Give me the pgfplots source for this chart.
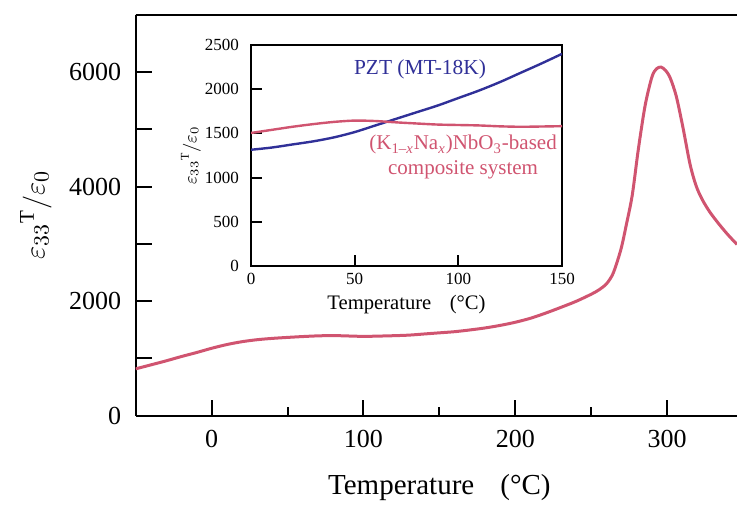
\documentclass[border=0pt]{standalone}
\usepackage{fontspec}
\setmainfont{Liberation Serif}
\usepackage{pgfplots}
\pgfplotsset{compat=1.18}
\definecolor{pinkc}{RGB}{208,84,112}
\definecolor{bluec}{RGB}{48,48,152}
\begin{document}
\begin{tikzpicture}
\begin{axis}[
  name=main,
  scale only axis, width=300.65pt, height=200.25pt,
  xmin=-50, xmax=346, ymin=0, ymax=7000,
  axis x line=box, axis y line=left,
  axis line style={line width=1pt,-},
  xtick={0,100,200,300}, minor xtick={50,150,250},
  ytick={0,1000,2000,3000,4000,5000,6000,7000},
  yticklabels={0,,2000,,4000,,6000,},
  xtick pos=bottom, ytick pos=left,
  tick align=inside,
  major tick length=8pt, minor tick length=4.5pt,
  every tick/.style={black, line width=1pt},
  /pgf/number format/assume math mode=true,
  /pgf/number format/1000 sep={},
  tick label style={font=\fontsize{13}{15}\selectfont},
  xticklabel style={yshift=-3.8pt},
  yticklabel style={xshift=-3.8pt},
  label style={font=\fontsize{14.5}{17}\selectfont},
  xlabel={Temperature\hspace{0.65em} (°C)},
  ylabel={$\varepsilon_{33}{}^{\mathrm{T}}/\varepsilon_0$},
  xlabel style={at={(axis description cs:0.505,-0.181)}, anchor=center},
  ylabel style={font=\fontsize{15}{17}\selectfont, at={(axis description cs:-0.166,0.5)}, anchor=center},
]
\addplot[pinkc, line width=1.5pt, smooth, tension=0.5] coordinates {
(-50,816) (-40,885) (-30,955) (-20,1030) (-10,1100) (0,1175) (10,1240)
(20,1290) (30,1325) (40,1348) (50,1365) (60,1380) (70,1392) (80,1397)
(90,1390) (100,1383) (110,1388) (120,1395) (130,1405) (140,1425)
(150,1445) (160,1465) (170,1495) (180,1530) (190,1575) (200,1630)
(210,1700) (220,1790) (230,1890) (240,1995) (250,2120) (255,2195)
(260,2300) (264,2460) (267,2680) (270,2950) (273,3320) (277,3850)
(281,4650) (285.5,5420) (290,5920) (293,6060) (296,6090) (299,6030)
(302,5900) (306,5580) (310.5,5020) (315,4400) (319,4020) (323,3780)
(328,3560) (334,3350) (340,3160) (346,2990)
};
\end{axis}
\begin{axis}[
  at={(57.65pt,74.75pt)}, anchor=south west,
  scale only axis, width=155.5pt, height=110.5pt,
  xmin=0, xmax=150, ymin=0, ymax=2500,
  xtick={0,50,100,150}, ytick={0,500,1000,1500,2000,2500},
  xtick pos=bottom, ytick pos=left, tick align=inside,
  major tick length=5.5pt,
  axis line style={line width=1pt},
  every tick/.style={black, line width=1pt},
  /pgf/number format/assume math mode=true,
  /pgf/number format/1000 sep={},
  tick label style={font=\fontsize{8.5}{10}\selectfont},
  yticklabel style={xshift=-2.5pt},
  xlabel={Temperature\hspace{0.65em} (°C)},
  ylabel={$\varepsilon_{33}{}^{\mathrm{T}}/\varepsilon_0$},
  xlabel style={font=\fontsize{10.3}{12}\selectfont, at={(axis description cs:0.5,-0.1765)}, anchor=center},
  ylabel style={font=\fontsize{9}{11}\selectfont, at={(axis description cs:-0.193,0.5)}, anchor=center},
]
\addplot[bluec, line width=1.2pt, smooth] coordinates {
(0,1315) (10,1340) (20,1375) (30,1410) (40,1455) (50,1515) (60,1590)
(70,1665) (80,1740) (90,1815) (100,1900) (110,1985) (120,2080)
(130,2185) (140,2290) (150,2400)
};
\addplot[pinkc, line width=1.2pt, smooth] coordinates {
(0,1505) (10,1540) (20,1575) (30,1605) (40,1630) (50,1645) (60,1640)
(70,1625) (80,1612) (90,1600) (100,1595) (110,1590) (120,1580)
(130,1575) (140,1578) (150,1582)
};
\node[text=bluec, font=\fontsize{10.7}{12.5}\selectfont] at (axis cs:81.5,2225) {PZT (MT-18K)};
\node[text=pinkc, font=\fontsize{10.5}{12.5}\selectfont, align=center] at (axis cs:102.3,1228) {(K\textsubscript{1\textendash\textit{x}}Na\textsubscript{\textit{x}})NbO\textsubscript{3}-based\\composite system};
\end{axis}
\pgfresetboundingbox
\path[use as bounding box] (-67.85pt,-44.25pt) rectangle (300.65pt,207.75pt);
\end{tikzpicture}
\end{document}
